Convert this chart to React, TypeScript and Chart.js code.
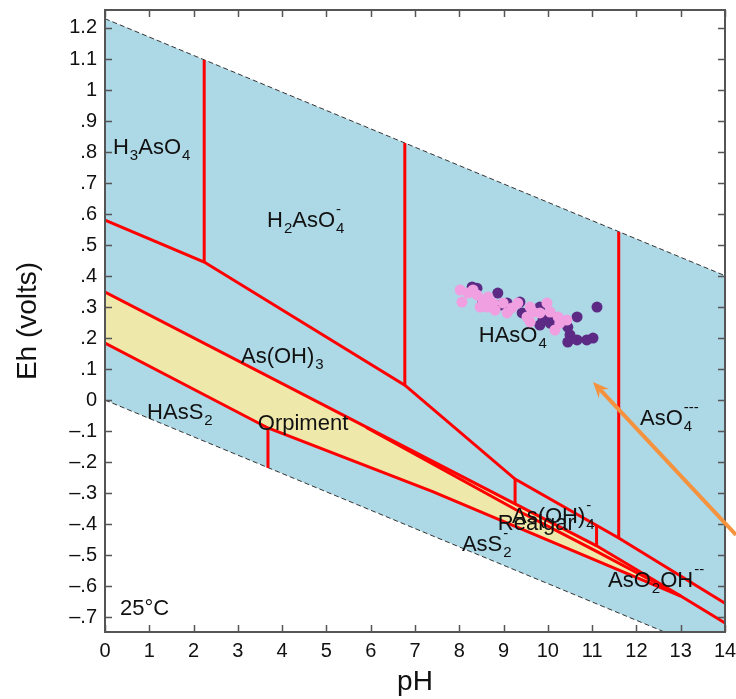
import React, { useEffect, useRef } from 'react';
import { Chart, registerables } from 'chart.js';

Chart.register(...registerables);

const FONT = "'Liberation Sans', Arial, Helvetica, sans-serif";

// ---- axis ticks ----
const xTicks = [0, 1, 2, 3, 4, 5, 6, 7, 8, 9, 10, 11, 12, 13, 14];
const yTicks = [-0.7, -0.6, -0.5, -0.4, -0.3, -0.2, -0.1, 0, 0.1, 0.2, 0.3, 0.4, 0.5, 0.6, 0.7, 0.8, 0.9, 1, 1.1, 1.2];

// ---- water stability limits [pH, Eh] ----
const waterUpper = [[0, 1.23], [14, 0.4012]];
const waterLower = [[0, 0], [14, -0.8288]];

// ---- predominance boundaries [pH, Eh] ----
const asVasIII = [[0, 0.58], [2.24, 0.445], [6.77, 0.048], [9.26, -0.255], [11.6, -0.445], [14, -0.655]];
const h3h2 = [[2.24, 1.097], [2.24, 0.445]];
const h2h1 = [[6.77, 0.829], [6.77, 0.048]];
const h1aso4 = [[11.6, 0.543], [11.6, -0.445]];
const asoh3asoh4 = [[9.26, -0.255], [9.26, -0.335]];
const asoh4aso2oh = [[11.1, -0.404], [11.1, -0.47]];
const hass2ass2 = [[3.68, -0.09], [3.68, -0.219]];
const sulfideTop = [[0, 0.348], [9.26, -0.335], [11.1, -0.47], [13, -0.632], [14, -0.719]];
const sulfideBottom = [[0, 0.184], [3.68, -0.09], [7.4, -0.295], [13, -0.632]];
const orpRealgar = [[5.9, -0.088], [9.26, -0.352], [11.1, -0.488], [13, -0.632]];

// ---- samples ----
const pinkPH = [8.02, 8.06, 8.2, 8.31, 8.4, 8.47, 8.53, 8.65, 8.62, 8.76, 8.81, 8.99, 9.08, 9.19, 9.32, 9.53, 9.6, 9.6, 9.66, 9.82, 9.98, 10.05, 10.16, 10.23, 10.27, 10.43];
const pinkEh = [0.355, 0.316, 0.345, 0.355, 0.339, 0.3, 0.323, 0.332, 0.3, 0.313, 0.29, 0.313, 0.281, 0.297, 0.313, 0.268, 0.3, 0.252, 0.284, 0.281, 0.313, 0.284, 0.226, 0.268, 0.248, 0.258];
const purplePH = [8.29, 8.4, 8.53, 8.87, 8.92, 9.08, 9.37, 9.42, 9.82, 9.82, 9.89, 9.98, 10.05, 10.12, 10.45, 10.66, 10.5, 10.45, 10.66, 10.88, 11.02, 11.11];
const purpleEh = [0.365, 0.361, 0.316, 0.345, 0.306, 0.313, 0.316, 0.281, 0.3, 0.242, 0.258, 0.265, 0.248, 0.268, 0.235, 0.268, 0.21, 0.187, 0.194, 0.194, 0.2, 0.3];

// ---- annotations (anchor [pH, Eh], rich text parts) ----
const regionLabels: { at: number[]; parts: string[][] }[] = [
  { at: [0.18, 0.794], parts: [['H'], ['3', 'b'], ['AsO'], ['4', 'b']] },
  { at: [3.66, 0.558], parts: [['H'], ['2', 'b'], ['AsO'], ['4|-', 'bp']] },
  { at: [8.44, 0.187], parts: [['HAsO'], ['4', 'b']] },
  { at: [12.08, -0.081], parts: [['AsO'], ['4|---', 'bp']] },
  { at: [3.07, 0.119], parts: [['As(OH)'], ['3', 'b']] },
  { at: [0.95, -0.061], parts: [['HAsS'], ['2', 'b']] },
  { at: [3.45, -0.097], parts: [['Orpiment']] },
  { at: [9.19, -0.397], parts: [['As(OH)'], ['4|-', 'bp']] },
  { at: [8.87, -0.419], parts: [['Realgar']] },
  { at: [8.06, -0.487], parts: [['AsS'], ['2|-', 'bp']] },
  { at: [11.36, -0.603], parts: [['AsO'], ['2', 'b'], ['OH'], ['--', 'p']] },
  { at: [0.34, -0.694], parts: [['25°C']] },
];
const arrowFrom = [14.25, -0.435];
const arrowTo = [11.02, 0.058];

const RED = '#FF0000';
const BLUE = '#ADD8E6';
const YELLOW = '#EEE8AA';
const FRAME = '#555555';

const toPts = (a: number[][]) => a.map(([x, y]) => ({ x, y }));
const zip = (xs: number[], ys: number[]) => xs.map((x, i) => ({ x, y: ys[i] }));

function lineDs(label: string, arr: number[][], extra: any = {}) {
  return {
    label,
    data: toPts(arr),
    showLine: true,
    pointRadius: 0,
    pointHoverRadius: 0,
    borderColor: RED,
    backgroundColor: RED,
    borderWidth: 3,
    fill: false,
    order: 2,
    ...extra,
  };
}

function fmtEh(v: number) {
  const r = Math.round(v * 10) / 10;
  if (r === 0) return '0';
  const a = Math.abs(r);
  const s = a >= 1 ? (Number.isInteger(a) ? String(a) : a.toFixed(1)) : a.toFixed(1).slice(1);
  return (r < 0 ? '–' : '') + s;
}

function drawRich(ctx: CanvasRenderingContext2D, x: number, y: number, parts: string[][]) {
  let cx = x;
  const main = `22px ${FONT}`;
  const small = `15px ${FONT}`;
  for (const [t, k] of parts) {
    if (!k) {
      ctx.font = main;
      ctx.fillText(t, cx, y);
      cx += ctx.measureText(t).width;
    } else if (k === 'b') {
      ctx.font = small;
      ctx.fillText(t, cx + 1, y + 6);
      cx += ctx.measureText(t).width + 1;
    } else if (k === 'p') {
      ctx.font = small;
      ctx.fillText(t, cx + 1, y - 13);
      cx += ctx.measureText(t).width + 1;
    } else {
      const [b, p] = t.split('|');
      ctx.font = small;
      ctx.fillText(b, cx + 1, y + 6);
      ctx.fillText(p, cx + 1, y - 13);
      cx += Math.max(ctx.measureText(b).width, ctx.measureText(p).width) + 1;
    }
  }
}

const decorPlugin = {
  id: 'decor',
  beforeDatasetDraw(chart: any, args: any) {
    if (chart.data.datasets[args.index].label !== 'Samples B') return;
    const { ctx, scales } = chart;
    ctx.save();
    ctx.fillStyle = '#111111';
    ctx.textBaseline = 'alphabetic';
    ctx.textAlign = 'left';
    for (const l of regionLabels) {
      drawRich(ctx, scales.x.getPixelForValue(l.at[0]), scales.y.getPixelForValue(l.at[1]), l.parts);
    }
    ctx.restore();
  },
  afterDatasetsDraw(chart: any) {
    const { ctx, chartArea: a, scales } = chart;
    ctx.save();
    // frame
    ctx.strokeStyle = FRAME;
    ctx.lineWidth = 2;
    ctx.strokeRect(a.left, a.top, a.right - a.left, a.bottom - a.top);
    // inward ticks
    ctx.lineWidth = 1.5;
    ctx.beginPath();
    for (const v of xTicks) {
      const px = Math.round(scales.x.getPixelForValue(v)) + 0.5;
      ctx.moveTo(px, a.bottom);
      ctx.lineTo(px, a.bottom - 7);
      ctx.moveTo(px, a.top);
      ctx.lineTo(px, a.top + 7);
    }
    for (const v of yTicks) {
      const py = Math.round(scales.y.getPixelForValue(v)) + 0.5;
      ctx.moveTo(a.left, py);
      ctx.lineTo(a.left + 7, py);
      ctx.moveTo(a.right, py);
      ctx.lineTo(a.right - 7, py);
    }
    ctx.stroke();
    // arrow
    const x0 = scales.x.getPixelForValue(arrowFrom[0]);
    const y0 = scales.y.getPixelForValue(arrowFrom[1]);
    const x1 = scales.x.getPixelForValue(arrowTo[0]);
    const y1 = scales.y.getPixelForValue(arrowTo[1]);
    const ang = Math.atan2(y1 - y0, x1 - x0);
    const hl = 16;
    const hw = 7;
    ctx.strokeStyle = '#F5923E';
    ctx.fillStyle = '#F5923E';
    ctx.lineWidth = 4;
    ctx.beginPath();
    ctx.moveTo(x0, y0);
    ctx.lineTo(x1 - Math.cos(ang) * 8, y1 - Math.sin(ang) * 8);
    ctx.stroke();
    ctx.beginPath();
    ctx.moveTo(x1, y1);
    ctx.lineTo(x1 - hl * Math.cos(ang) + hw * Math.sin(ang), y1 - hl * Math.sin(ang) - hw * Math.cos(ang));
    ctx.lineTo(x1 - 10 * Math.cos(ang), y1 - 10 * Math.sin(ang));
    ctx.lineTo(x1 - hl * Math.cos(ang) - hw * Math.sin(ang), y1 - hl * Math.sin(ang) + hw * Math.cos(ang));
    ctx.closePath();
    ctx.fill();
    ctx.restore();
  },
};

const zeroPad = (s: any) => {
  s.paddingLeft = 0;
  s.paddingRight = 0;
  s.paddingTop = 0;
  s.paddingBottom = 0;
};

export default function App() {
  const ref = useRef<HTMLCanvasElement | null>(null);

  useEffect(() => {
    document.body.style.margin = '0';
    const canvas = ref.current;
    if (!canvas) return;
    const chart = new Chart(canvas, {
      type: 'scatter',
      data: {
        datasets: [
          {
            label: 'Samples A',
            data: zip(pinkPH, pinkEh),
            backgroundColor: '#F0A0E0',
            borderColor: '#F0A0E0',
            borderWidth: 0,
            pointRadius: 5.5,
            order: 0,
          },
          {
            label: 'Samples B',
            data: zip(purplePH, purpleEh),
            backgroundColor: '#5C2A84',
            borderColor: '#5C2A84',
            borderWidth: 0,
            pointRadius: 5.5,
            order: 1,
          },
          lineDs('As(V)/As(III)', asVasIII),
          lineDs('H3AsO4/H2AsO4-', h3h2),
          lineDs('H2AsO4-/HAsO4--', h2h1),
          lineDs('HAsO4--/AsO4---', h1aso4),
          lineDs('As(OH)3/As(OH)4-', asoh3asoh4),
          lineDs('As(OH)4-/AsO2OH--', asoh4aso2oh),
          lineDs('HAsS2/AsS2-', hass2ass2),
          lineDs('Sulfide upper', sulfideTop),
          lineDs('Sulfide lower', sulfideBottom),
          lineDs('Orpiment/Realgar', orpRealgar),
          lineDs('Water upper', waterUpper, { borderColor: '#333333', borderWidth: 1, borderDash: [5, 3], order: 3 }),
          lineDs('Water lower', waterLower, { borderColor: '#333333', borderWidth: 1, borderDash: [5, 3], order: 3 }),
          lineDs('Sulfide field', sulfideTop.slice(0, 4), { borderWidth: 0, borderColor: 'rgba(0,0,0,0)', backgroundColor: YELLOW, fill: '+1', order: 4 }),
          lineDs('Sulfide field base', sulfideBottom, { borderWidth: 0, borderColor: 'rgba(0,0,0,0)', order: 4 }),
          lineDs('Water field', waterUpper, { borderWidth: 0, borderColor: 'rgba(0,0,0,0)', backgroundColor: BLUE, fill: '+1', order: 5 }),
          lineDs('Water field base', waterLower, { borderWidth: 0, borderColor: 'rgba(0,0,0,0)', order: 5 }),
        ],
      },
      options: {
        responsive: false,
        animation: false,
        events: [],
        layout: { padding: { top: 10, right: 11, left: 0, bottom: 0 } },
        plugins: { legend: { display: false }, tooltip: { enabled: false } },
        scales: {
          x: {
            type: 'linear',
            min: 0,
            max: 14,
            afterBuildTicks: (s: any) => { s.ticks = xTicks.map((v) => ({ value: v })); },
            afterFit: (s: any) => { s.height = 67; zeroPad(s); },
            grid: { display: false, drawTicks: false },
            border: { display: false },
            ticks: {
              color: '#111111',
              font: { family: FONT, size: 20, lineHeight: 1 },
              padding: 9,
              maxRotation: 0,
              autoSkip: false,
              callback: (v: any) => String(v),
            },
            title: { display: true, text: 'pH', color: '#111111', font: { family: FONT, size: 28 }, padding: { top: 0, bottom: 0 } },
          },
          y: {
            type: 'linear',
            min: -0.748,
            max: 1.258,
            afterBuildTicks: (s: any) => { s.ticks = yTicks.map((v) => ({ value: v })); },
            afterFit: (s: any) => { s.width = 105; zeroPad(s); },
            grid: { display: false, drawTicks: false },
            border: { display: false },
            ticks: {
              color: '#111111',
              font: { family: FONT, size: 20, lineHeight: 1 },
              padding: 8,
              autoSkip: false,
              callback: (v: any) => fmtEh(Number(v)),
            },
            title: { display: true, text: 'Eh (volts)', color: '#111111', font: { family: FONT, size: 28 }, padding: { top: 11, bottom: 0 } },
          },
        },
      },
      plugins: [decorPlugin],
    } as any);
    return () => chart.destroy();
  }, []);

  return <canvas ref={ref} width={736} height={699} style={{ display: 'block' }} />;
}
